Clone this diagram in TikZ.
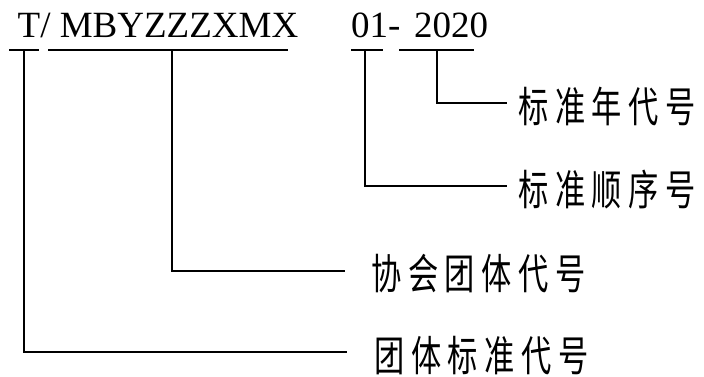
\documentclass[tikz,border=0pt]{standalone}
\usepackage{fontspec}
\setmainfont{Liberation Serif}
\newfontfamily\cjk[FakeStretch=0.72]{Noto Sans CJK SC}
\newcommand\gp{\hspace{6.6pt}}
\begin{document}
\begin{tikzpicture}[x=1pt,y=-1pt,
  latin/.style={anchor=base west,inner sep=0pt,font=\fontsize{37}{37}\selectfont},
  lab/.style={anchor=base west,inner sep=0pt,font=\cjk\fontsize{42}{42}\selectfont},
  ul/.style={line width=1.5pt},
  conn/.style={line width=1.8pt}]
\useasboundingbox (0,0) rectangle (704,376);
% code text
\node[latin] (code) at (17.5,37) {T/ MBYZZZXMX};
\node[latin] (seq) at (351,37) {01-};
\node[latin] (yr) at (414,37) {2020};
% labels
\node[lab] (l1) at (518,122.5) {标\gp 准\gp 年\gp 代\gp 号};
\node[lab] (l2) at (518,205.5) {标\gp 准\gp 顺\gp 序\gp 号};
\node[lab] (l3) at (371,289.5) {协\gp 会\gp 团\gp 体\gp 代\gp 号};
\node[lab] (l4) at (374,371) {团\gp 体\gp 标\gp 准\gp 代\gp 号};
% underline coordinates
\coordinate (ta) at (9,50);   \coordinate (tb) at (39,50);  \coordinate (tm) at (24,50);
\coordinate (ma) at (48,50);  \coordinate (mb) at (288,50); \coordinate (mm) at (172,50);
\coordinate (sa) at (351,50); \coordinate (sb) at (383,50); \coordinate (sm) at (365,50);
\coordinate (ya) at (399,50); \coordinate (yb) at (474,50); \coordinate (ym) at (437,50);
% line ends near labels
\coordinate (e1) at (507,103);
\coordinate (e2) at (507,186);
\coordinate (e3) at (345,271);
\coordinate (e4) at (347,352);
% underlines
\draw[ul] (ta) -- (tb);
\draw[ul,line width=1.2pt] (ma) -- (mb);
\draw[ul] (sa) -- (sb);
\draw[ul] (ya) -- (yb);
% connectors
\draw[conn] (ym) |- (e1);
\draw[conn] (sm) |- (e2);
\draw[conn] (mm) |- (e3);
\draw[conn] (tm) |- (e4);
\end{tikzpicture}
\end{document}
